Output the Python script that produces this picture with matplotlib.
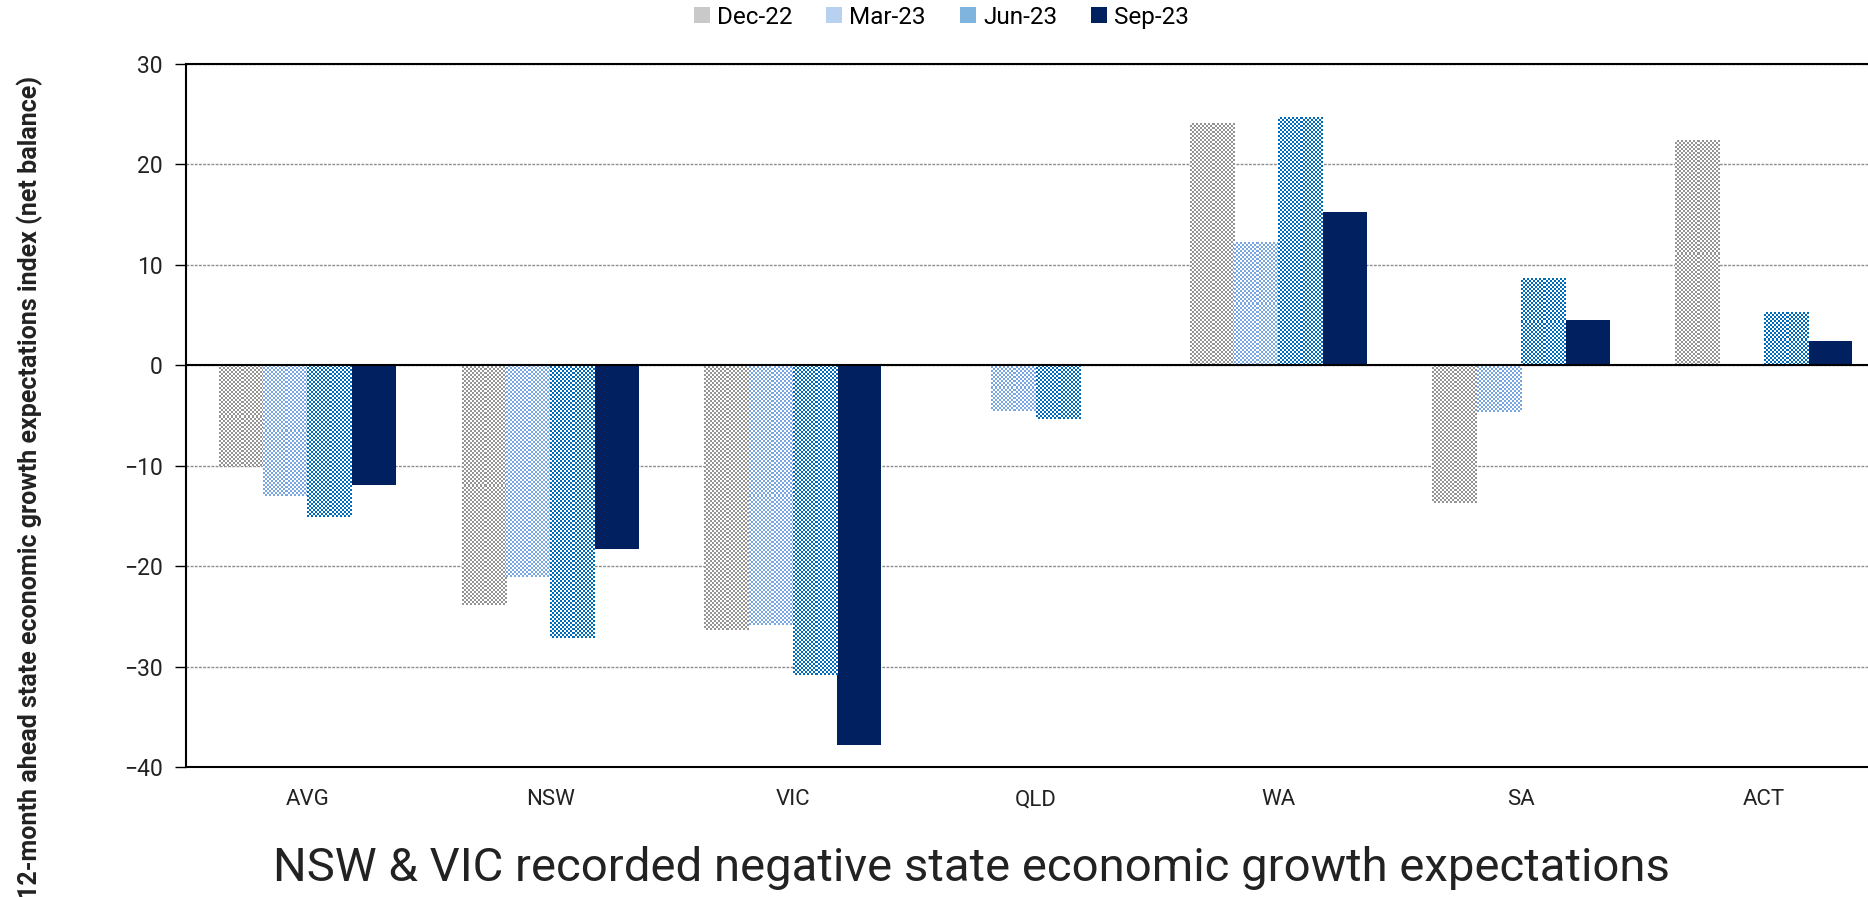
import numpy as np
import matplotlib
matplotlib.use('Agg')
import matplotlib.pyplot as plt
from matplotlib.colors import ListedColormap

# ------------------------------------ 数据 ------------------------------------ #
states = ['AVG', 'NSW', 'VIC', 'QLD', 'WA', 'SA', 'ACT']
quarters = ['Dec-22', 'Mar-23', 'Jun-23', 'Sep-23']
dec22 = [-10.0, -23.9, -26.4, np.nan, 24.0, -13.7, 22.4]
mar23 = [-13.0, -21.1, -25.9, -4.6, 12.2, -4.7, np.nan]
jun23 = [-15.1, -27.2, -30.8, -5.3, 24.6, 8.6, 5.2]
sep23 = [-11.9, -18.3, -37.8, np.nan, 15.3, 4.5, 2.4]

# 棋盘格颜色 (图案色, 平均色)；None 表示实心
pattern_colors = ['#949494', '#78a6e2', '#006abd', None]
mean_colors = ['#c9c9c9', '#b9d1f0', '#7fb4de', '#002060']

plt.rcParams['font.family'] = ['Roboto', 'DejaVu Sans']

fig = plt.figure(figsize=(18.68, 8.97), dpi=100)
ax = fig.add_axes([0.0996, 0.1449, 0.9004, 0.7838])

x = np.arange(len(states))
width = 0.1825
series = [dec22, mar23, jun23, sep23]
containers = []
for i, vals in enumerate(series):
    bc = ax.bar(x + (i - 1.5) * width, vals, width, color=mean_colors[i],
                label=quarters[i], linewidth=0, zorder=3)
    containers.append(bc)

ax.set_xlim(-0.5, 6.43)
ax.set_ylim(-40, 30)
ax.set_yticks(np.arange(-40, 31, 10))
ax.set_xticks(x)
ax.set_xticklabels(states)

# 棋盘格填充：在每根柱子上叠加一张小图
fig.canvas.draw()
cell = 2.0
for i, bc in enumerate(containers):
    if pattern_colors[i] is None:
        continue
    cmap = ListedColormap(['white', pattern_colors[i]])
    for p in bc.patches:
        h = p.get_height()
        if not np.isfinite(h) or h == 0:
            continue
        x0, y0, w = p.get_x(), p.get_y(), p.get_width()
        (px0, py0), (px1, py1) = ax.transData.transform([(x0, y0), (x0 + w, y0 + h)])
        nx = max(1, int(round(abs(px1 - px0) / cell)))
        ny = max(1, int(round(abs(py1 - py0) / cell)))
        grid = (np.add.outer(np.arange(ny), np.arange(nx)) % 2).astype(float)
        ylo, yhi = min(y0, y0 + h), max(y0, y0 + h)
        ax.imshow(grid, cmap=cmap, vmin=0, vmax=1, interpolation='nearest',
                  extent=(x0, x0 + w, ylo, yhi), origin='upper',
                  aspect='auto', zorder=3.5)

ax.set_xlim(-0.5, 6.43)
ax.set_ylim(-40, 30)

# 网格线与零线
ax.yaxis.grid(True, linestyle=(0, (2, 1)), color='#8c8c8c', linewidth=1, zorder=1)
ax.set_axisbelow(True)
ax.axhline(0, color='black', linewidth=1.5, zorder=4)

for s in ['top', 'left', 'bottom']:
    ax.spines[s].set_linewidth(1.5)
    ax.spines[s].set_color('black')
ax.spines['right'].set_visible(False)

ax.tick_params(axis='x', length=0, pad=16, labelsize=16, labelcolor='#222222')
ax.tick_params(axis='y', length=8, width=1, direction='out', pad=9,
               labelsize=16.5, colors='black', labelcolor='#222222')

# 图例
fig.legend(handles=containers, labels=quarters, loc='center',
           bbox_to_anchor=(0.504, 0.981), ncol=4, frameon=False, fontsize=17.5,
           handlelength=0.65, handleheight=0.65, handletextpad=0.3,
           columnspacing=1.4)

# 纵轴标题与底部标题
fig.text(0.016, 1 - 487 / 897, '12-month ahead state economic growth expectations index (net balance)',
         rotation=90, ha='center', va='center', fontsize=18, fontweight='bold',
         color='#222222')
fig.text(0.52, 1 - 868 / 897, 'NSW & VIC recorded negative state economic growth expectations',
         ha='center', va='center', fontsize=34, color='#222222')

fig.savefig('out.png', dpi=100)
